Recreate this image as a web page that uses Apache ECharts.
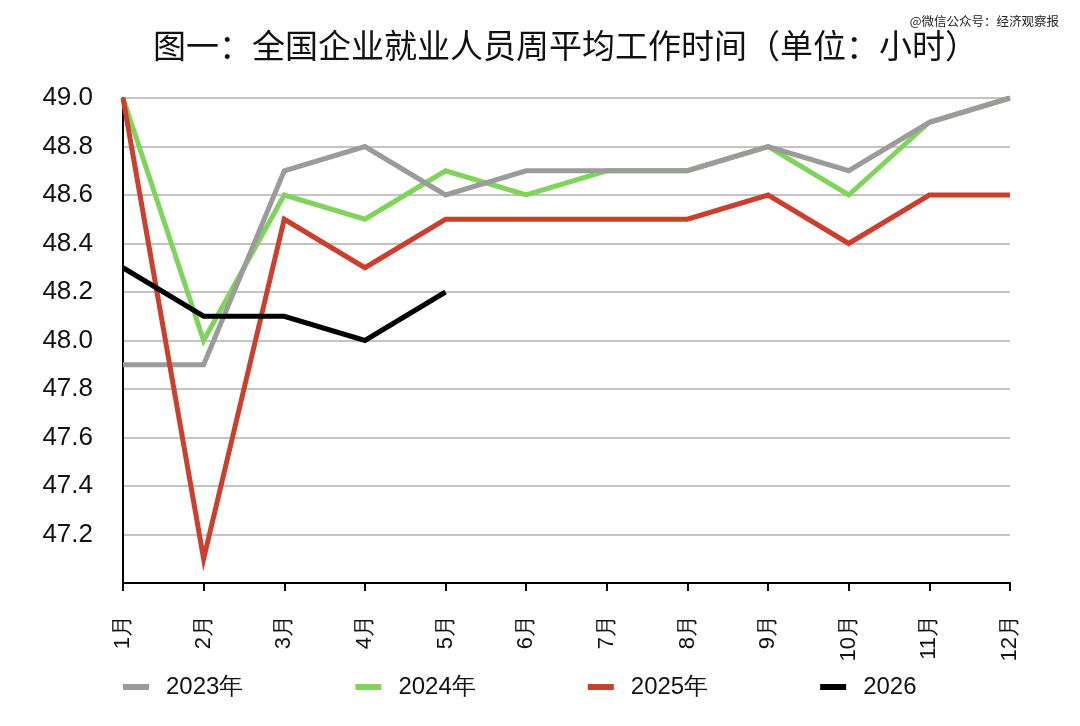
<!DOCTYPE html>
<html><head><meta charset="utf-8">
<script src="https://cdn.jsdelivr.net/npm/echarts@6/dist/echarts.min.js"></script>
<style>html,body{margin:0;padding:0;background:#fff}#c{width:1080px;height:726px}</style>
</head><body><div id="c"></div>
<script>
const months = ['1月','2月','3月','4月','5月','6月','7月','8月','9月','10月','11月','12月'];
const s2023 = [47.9, 47.9, 48.7, 48.8, 48.6, 48.7, 48.7, 48.7, 48.8, 48.7, 48.9, 49.0];
const s2024 = [49.0, 48.0, 48.6, 48.5, 48.7, 48.6, 48.7, 48.7, 48.8, 48.6, 48.9, 49.0];
const s2025 = [49.0, 47.1, 48.5, 48.3, 48.5, 48.5, 48.5, 48.5, 48.6, 48.4, 48.6, 48.6];
const s2026 = [48.3, 48.1, 48.1, 48.0, 48.2];
const names = ['2023年','2024年','2025年','2026'];
const colors = {'2023年':'#9b9b9b','2024年':'#80d45c','2025年':'#cc3f2e','2026':'#000000'};

const font = 'Liberation Sans, Arial, sans-serif';
const chart = echarts.init(document.getElementById('c'));
function line(name, data, z){
  return {name, type:'line', data, z, symbol:'none', smooth:false,
    lineStyle:{color:colors[name], width:5, join:'miter'}, itemStyle:{color:colors[name]}};
}
chart.setOption({
  animation:false,
  title:[{text:'图一：全国企业就业人员周平均工作时间（单位：小时）', left:148, top:24,
    textStyle:{fontFamily:'Noto Sans CJK SC', fontSize:33, fontWeight:'normal', color:'#111'}},
    {text:'@微信公众号：经济观察报', right:16, top:10,
    textStyle:{fontFamily:'Noto Sans CJK SC', fontSize:12.5, fontWeight:'normal', color:'#222'}}],
  grid:{left:123, right:70, top:98, bottom:143, containLabel:false},
  legend:{data:names, bottom:22, left:118, itemWidth:26, itemHeight:6, itemGap:112,
    icon:'rect', textStyle:{fontFamily:font, fontSize:24, color:'#111', padding:[0,0,0,12]}},
  xAxis:{type:'category', data:months, boundaryGap:false,
    axisLine:{lineStyle:{color:'#000', width:2}},
    axisTick:{show:true, alignWithLabel:true, length:8, lineStyle:{color:'#000', width:2}},
    axisLabel:{rotate:90, align:'right', verticalAlign:'middle', fontFamily:font, fontSize:22,
      color:'#111', margin:32, interval:0, hideOverlap:false}},
  yAxis:{type:'value', min:47, max:49, interval:0.2,
    axisLine:{show:true, lineStyle:{color:'#000', width:2}},
    axisTick:{show:false},
    splitLine:{lineStyle:{color:'#c4c4c4', width:2}},
    axisLabel:{showMinLabel:false, fontFamily:font, fontSize:26, color:'#111', margin:30,
      formatter:v=>v.toFixed(1)}},
  series:[line('2024年', s2024, 2), line('2023年', s2023, 3), line('2025年', s2025, 4), line('2026', s2026, 5)]
});
</script></body></html>
